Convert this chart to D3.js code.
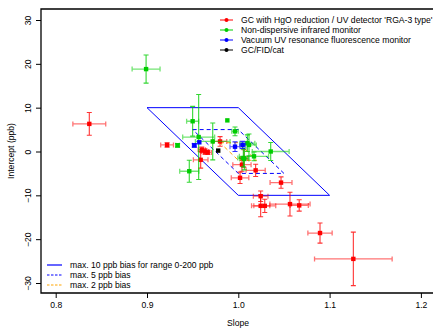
<!DOCTYPE html>
<html>
<head>
<meta charset="utf-8">
<script src="https://cdn.jsdelivr.net/npm/d3@7"></script>
<style>
  body { margin: 0; background: #fff; }
  svg { display: block; font-family: "Liberation Sans", Arial, sans-serif; }
</style>
</head>
<body>
<div id="chart"></div>
<script>
// [slope, intercept, slope error, intercept error]
const rgaPoints = [
  [0.8368, 6.3, 0.018, 2.6],
  [0.922, 1.5, 0.007, 0.5],
  [0.960, 0.4, 0.004, 0.6],
  [0.9635, 0.0, 0.004, 0.6],
  [0.9665, -0.2, 0.004, 0.5],
  [0.9588, -1.9, 0.008, 1.9],
  [0.980, 2.3, 0.0073, 1.1],
  [1.0062, -1.6, 0.004, 2.0],
  [1.004, -3.0, 0.010, 1.5],
  [1.019, -4.3, 0.0105, 1.4],
  [1.0019, -6.0, 0.0096, 1.3],
  [1.0468, -7.1, 0.012, 1.3],
  [1.0245, -10.2, 0.008, 1.2],
  [1.0245, -12.4, 0.01, 2.5],
  [1.029, -12.4, 0.012, 1.5],
  [1.0566, -12.0, 0.022, 2.7],
  [1.0667, -12.3, 0.01, 1.3],
  [1.0895, -18.6, 0.0133, 2.3],
  [1.126, -24.5, 0.0425, 6.1]
];
const ndirPoints = [
  [0.899, 18.8, 0.0153, 3.2],
  [0.950, 6.9, 0.0066, 3.4],
  [0.9566, 3.3, 0.0175, 9.7],
  [0.9335, 1.4, 0.002, 0.4],
  [0.9463, -4.5, 0.0105, 2.5],
  [0.988, 7.1, 0, 0],
  [0.9964, 4.6, 0.0036, 1.0],
  [0.972, 2.3, 0.019, 4.2],
  [1.0355, 0.0, 0.0202, 2.05],
  [1.0099, 1.9, 0.0082, 1.9],
  [1.0117, 1.5, 0.008, 2.5],
  [1.0055, -1.5, 0.006, 2.0],
  [1.0172, -1.1, 0.016, 1.0],
  [1.0066, -1.7, 0.005, 2.5]
];
const vuvPoints = [
  [0.9518, 1.4, 0.002, 0.4],
  [0.9573, 2.1, 0, 0],
  [0.9964, 1.1, 0.0055, 1.1],
  [1.0048, 1.5, 0.003, 0.8]
];
const fidPoints = [
  [0.978, 0.2, 0, 0]
];

const seriesNames = [
  "GC with HgO reduction / UV detector 'RGA-3 type'",
  "Non-dispersive infrared monitor",
  "Vacuum UV resonance fluorescence monitor",
  "GC/FID/cat"
];
const seriesColors = ["#ff0000", "#00cd00", "#0000ff", "#000000"];

// bias limits: max bias over 0-200 ppb range
const biasNames = ["max. 10 ppb bias for range 0-200 ppb", "max. 5 ppb bias", "max. 2 ppb bias"];
const biasLimits = [10, 5, 2];
const biasColors = ["#0000ff", "#0000ff", "#ffa500"];

const xTicks = [0.8, 0.9, 1.0, 1.1, 1.2];
const yTicks = [-30, -20, -10, 0, 10, 20, 30];

const width = 433, height = 328;
const fontSize = 8.6;
const svg = d3.select('#chart').append('svg').attr('width', width).attr('height', height);

const x = d3.scaleLinear().domain([0.8, 1.2]).range([55.7, 420.9]);
const y = d3.scaleLinear().domain([-30, 30]).range([283, 20]);
const plotLeft = 41, plotTop = 9, plotBottom = 293;

// frame
svg.append('path')
  .attr('d', `M${width},${plotTop}H${plotLeft}V${plotBottom}H${width}`)
  .attr('fill', 'none').attr('stroke', '#000').attr('stroke-width', 1.3);

// axes
const xAxis = svg.append('g').attr('transform', `translate(0,${plotBottom})`)
  .call(d3.axisBottom(x).tickValues(xTicks).tickFormat(d3.format('.1f')).tickSize(5).tickPadding(4));
xAxis.select('.domain').remove();
xAxis.selectAll('text').attr('font-size', fontSize).attr('fill', '#000').attr('font-family', 'Liberation Sans, Arial');

const yAxis = svg.append('g').attr('transform', `translate(${plotLeft},0)`)
  .call(d3.axisLeft(y).tickValues(yTicks).tickSize(5));
yAxis.select('.domain').remove();
yAxis.selectAll('text')
  .attr('font-size', fontSize).attr('fill', '#000').attr('font-family', 'Liberation Sans, Arial')
  .attr('x', null).attr('dy', null)
  .attr('text-anchor', 'middle')
  .attr('transform', 'translate(-12,0) rotate(-90)')
  .attr('dominant-baseline', 'middle');

svg.append('text').attr('x', 238).attr('y', 326).attr('text-anchor', 'middle')
  .attr('font-size', fontSize).text('Slope');
svg.append('text').attr('transform', `translate(14,151) rotate(-90)`).attr('text-anchor', 'middle')
  .attr('font-size', fontSize).text('Intercept (ppb)');

// bias parallelograms
const line = d3.line().x(d => x(d[0])).y(d => y(d[1]));
biasLimits.forEach((b, i) => {
  const s = b / 100; // slope range for a 200 ppb span with intercept b
  const corners = [[1 - s, b], [1, b], [1 + s, -b], [1, -b], [1 - s, b]];
  svg.append('path').attr('d', line(corners))
    .attr('fill', 'none').attr('stroke', biasColors[i]).attr('stroke-width', 1)
    .attr('stroke-dasharray', i === 0 ? null : '4,3');
});

// error bars and points
const cap = 2.5;
[rgaPoints, ndirPoints, vuvPoints, fidPoints].forEach((pts, k) => {
  const color = seriesColors[k];
  const g = svg.append('g');
  pts.forEach(p => {
    const [s, b, se, be] = p;
    if (se > 0) {
      g.append('path')
        .attr('d', `M${x(s - se)},${y(b)}H${x(s + se)}M${x(s - se)},${y(b) - cap}v${2 * cap}M${x(s + se)},${y(b) - cap}v${2 * cap}`)
        .attr('stroke', color).attr('stroke-opacity', 0.55).attr('stroke-width', 1.3).attr('fill', 'none');
    }
    if (be > 0) {
      g.append('path')
        .attr('d', `M${x(s)},${y(b - be)}V${y(b + be)}M${x(s) - cap},${y(b - be)}h${2 * cap}M${x(s) - cap},${y(b + be)}h${2 * cap}`)
        .attr('stroke', color).attr('stroke-opacity', 0.8).attr('stroke-width', 1.1).attr('fill', 'none');
    }
  });
  g.selectAll('rect').data(pts).enter().append('rect')
    .attr('x', d => x(d[0]) - 2.2).attr('y', d => y(d[1]) - 2.2)
    .attr('width', 4.4).attr('height', 4.4).attr('fill', color);
});

// top-right legend
const leg = svg.append('g');
seriesNames.forEach((name, i) => {
  const ly = 20 + i * 10;
  leg.append('line').attr('x1', 220).attr('x2', 233).attr('y1', ly).attr('y2', ly)
    .attr('stroke', seriesColors[i]).attr('stroke-width', 1);
  leg.append('circle').attr('cx', 226.5).attr('cy', ly).attr('r', 2).attr('fill', seriesColors[i]);
  leg.append('text').attr('x', 241).attr('y', ly).attr('dy', '0.35em')
    .attr('font-size', fontSize).text(name);
});

// bottom-left legend
biasNames.forEach((name, i) => {
  const ly = 265 + i * 10;
  svg.append('line').attr('x1', 47).attr('x2', 62).attr('y1', ly).attr('y2', ly)
    .attr('stroke', biasColors[i]).attr('stroke-width', i === 0 ? 1.2 : 1)
    .attr('stroke-dasharray', i === 0 ? null : '2.5,1.5');
  svg.append('text').attr('x', 70).attr('y', ly).attr('dy', '0.35em')
    .attr('font-size', fontSize).text(name);
});
</script>
</body>
</html>
